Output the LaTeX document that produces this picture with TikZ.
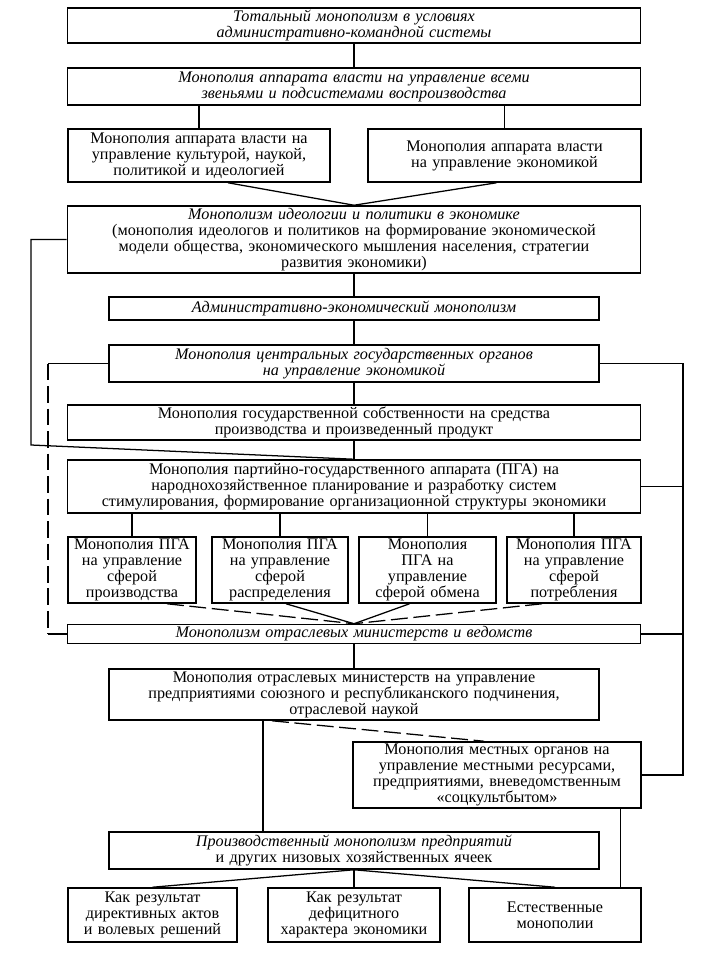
\documentclass[tikz,border=0pt]{standalone}
\usepackage{fontspec}
\setmainfont{Liberation Serif}[WordSpace=1.3]
\usepackage{tikz}
\usetikzlibrary{calc}

\begin{document}
\begin{tikzpicture}[x=0.025cm,y=-0.025cm,
  box/.style 2 args={draw,line width=1.1pt,inner sep=0pt,align=center,
    minimum width=#1*0.025cm,minimum height=#2*0.025cm,
    font=\fontsize{11.5}{11.4}\selectfont},
  ibox/.style 2 args={box={#1}{#2},font=\fontsize{11.5}{11.4}\selectfont\itshape},
  link/.style={line width=0.9pt},
  dlink/.style={line width=0.9pt,dash pattern=on 12pt off 4pt}]
  \useasboundingbox (0,0) rectangle (700,960);
  \node[ibox={573}{35}] (tot) at (354,25.5) {Тотальный монополизм в условиях\\административно-командной системы};
  \node[ibox={573}{37}] (appv) at (354,86.5) {Монополия аппарата власти на управление всеми\\звеньями и подсистемами воспроизводства};
  \node[box={262}{53}] (kult) at (199,155.5) {Монополия аппарата власти на\\управление культурой, наукой,\\политикой и идеологией};
  \node[box={273}{53}] (ekon) at (504.5,155.5) {Монополия аппарата власти\\на управление экономикой};
  \node[box={573}{67}] (ideol) at (354,239.5) {{\itshape Монополизм идеологии и политики в экономике}\\(монополия идеологов и политиков на формирование экономической\\модели общества, экономического мышления населения, стратегии\\развития экономики)};
  \node[ibox={490}{23}] (admek) at (354,308.5) {Административно-экономический монополизм};
  \node[ibox={490}{37}] (ceng) at (354,363.5) {Монополия центральных государственных органов\\на управление экономикой};
  \node[box={573}{35}] (sobst) at (354,422.5) {Монополия государственной собственности на средства\\производства и произведенный продукт};
  \node[box={573}{53}] (pga) at (354,486.5) {Монополия партийно-государственного аппарата (ПГА) на\\народнохозяйственное планирование и разработку систем\\стимулирования, формирование организационной структуры экономики};
  \node[box={128}{66}] (proizv) at (132,570) {Монополия ПГА\\на управление\\сферой\\производства};
  \node[box={136}{66}] (raspr) at (280,570) {Монополия ПГА\\на управление\\сферой\\распределения};
  \node[box={137}{66}] (obmen) at (427.5,570) {Монополия\\ПГА на\\управление\\сферой обмена};
  \node[box={134}{66}] (potr) at (574,570) {Монополия ПГА\\на управление\\сферой\\потребления};
  \node[ibox={573}{19}] (otr) at (354,634) {Монополизм отраслевых министерств и ведомств};
  \node[box={490}{51}] (minotr) at (354,694.5) {Монополия отраслевых министерств на управление\\предприятиями союзного и республиканского подчинения,\\отраслевой наукой};
  \node[box={288}{66}] (mest) at (497,775) {Монополия местных органов на\\управление местными ресурсами,\\предприятиями, вневедомственным\\«соцкультбытом»};
  \node[box={490}{37}] (prmon) at (354,850.5) {{\itshape Производственный монополизм предприятий}\\и других низовых хозяйственных ячеек};
  \node[box={169}{54}] (direkt) at (152.5,915) {Как результат\\директивных актов\\и волевых решений};
  \node[box={172}{54}] (defic) at (354,915) {Как результат\\дефицитного\\характера экономики};
  \node[box={172}{54}] (estest) at (555,915) {Естественные\\монополии};

  \coordinate (lup) at (31,445);
  \coordinate (ldn) at (48,634);
  \coordinate (rdn) at (683,775);

  \draw[link] (tot) -- (appv);
  \draw[link] (kult.north |- appv.south) -- (kult.north);
  \draw[link] (ekon.north |- appv.south) -- (ekon.north);
  \draw[link] ($(kult.south)+(29,0)$) -- (ideol.north);
  \draw[link] ($(ekon.south)+(-8,0)$) -- (ideol.north);
  \draw[link] (ideol) -- (admek);
  \draw[link] (admek) -- (ceng);
  \draw[link] (ceng) -- (sobst);
  \draw[link] (sobst) -- (pga);
  \draw[link] (ideol.west) -| (lup) -- (pga.north);
  \foreach \n in {proizv,raspr,obmen,potr}
    \draw[link] (\n.north |- pga.south) -- (\n.north);
  \draw[dlink] ($(proizv.south)+(35,0)$) -- (otr.north);
  \draw[link] ($(raspr.south)+(6,0)$) -- (otr.north);
  \draw[link] ($(obmen.south)+(-18,0)$) -- (otr.north);
  \draw[dlink] ($(potr.south)+(-32,0)$) -- (otr.north);
  \draw[link] (ceng.west) -- (ceng.west -| ldn);
  \draw[dlink] (ceng.west -| ldn) -- (ldn);
  \draw[link] (ldn) -- (otr.west);
  \draw[link] (ceng.east) -| (rdn) -- (mest.east);
  \draw[link] (pga.east) -- (pga.east -| rdn);
  \draw[link] (otr.east) -- (otr.east -| rdn);
  \draw[link] (otr) -- (minotr);
  \draw[link] ($(minotr.south)+(-91,0)$) -- ($(prmon.north)+(-91,0)$);
  \draw[dlink] ($(minotr.south)+(-82,0)$) -- ($(mest.north)+(-13,0)$);
  \draw[link] ($(mest.south east)+(-21,0)$) -- ($(estest.north east)+(-21,0)$);
  \draw[link] (prmon.south) -- (direkt.north);
  \draw[link] (prmon.south) -- (defic.north);
  \draw[link] (prmon.south) -- (estest.north);
\end{tikzpicture}
\end{document}
